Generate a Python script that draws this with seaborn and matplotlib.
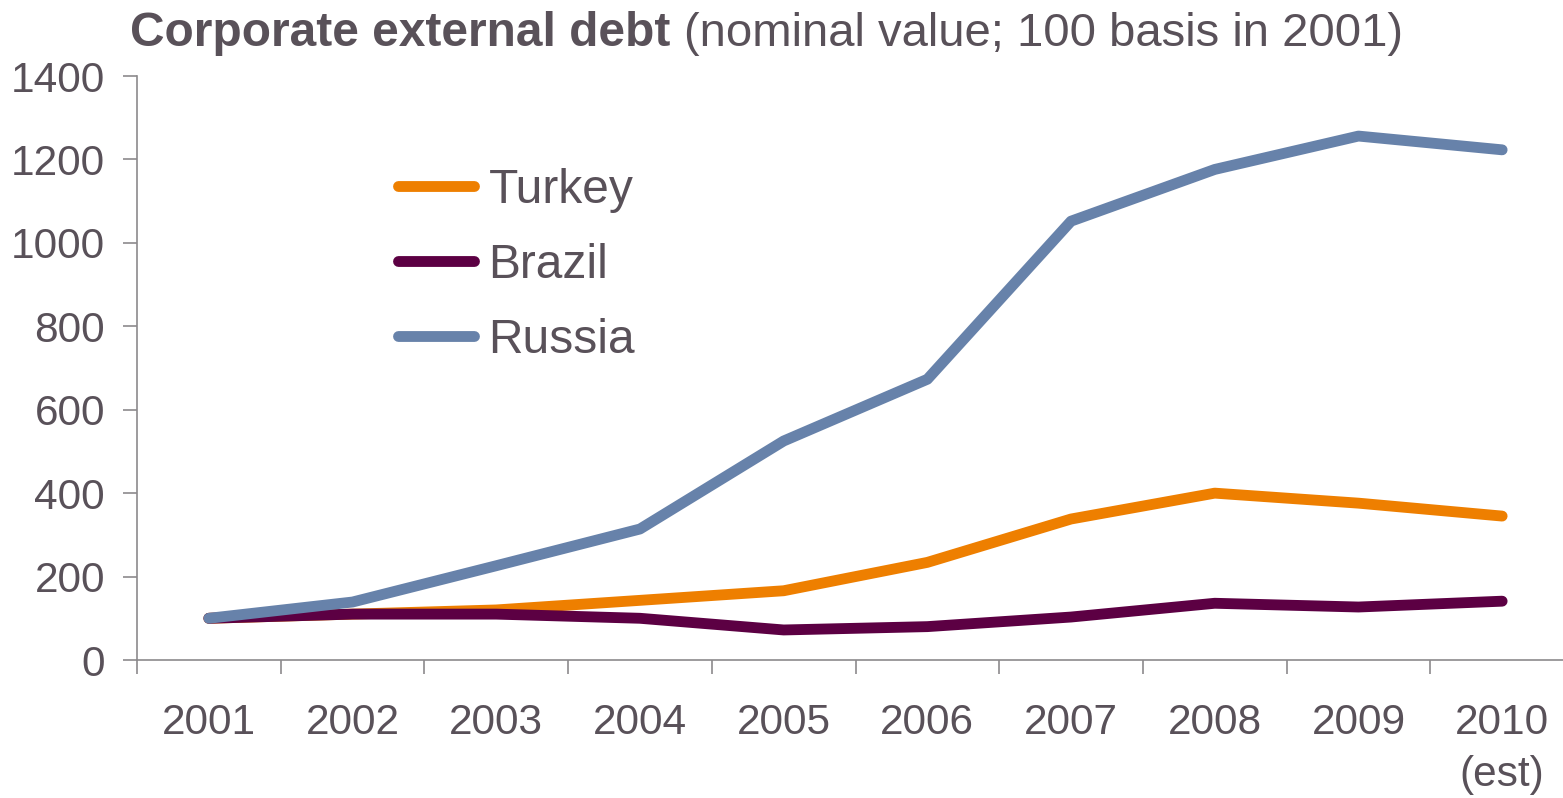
import matplotlib
matplotlib.use("Agg")
import matplotlib.pyplot as plt
import seaborn as sns
import pandas as pd

years = ["2001", "2002", "2003", "2004", "2005", "2006", "2007", "2008", "2009", "2010\n(est)"]
turkey = [100, 110, 120, 143, 166, 234, 338, 400, 376, 345]
brazil = [100, 110, 110, 100, 72, 80, 103, 136, 127, 141]
russia = [100, 139, 226, 314, 525, 673, 1052, 1176, 1256, 1223]
countries = ["Turkey", "Brazil", "Russia"]
colors = ["#EE7F00", "#5C0043", "#6782AA"]

rows = []
for name, vals in zip(countries, [turkey, brazil, russia]):
    for i, v in enumerate(vals):
        rows.append({"pos": i, "value": v, "country": name})
df = pd.DataFrame(rows)

sns.set_style("white")
plt.rcParams["font.family"] = ["Liberation Sans", "DejaVu Sans"]
text_c = "#595159"
axis_c = "#8C8A8C"
lw = 7.8

fig = plt.figure(figsize=(15.63, 7.98), dpi=100)
ax = fig.add_axes([137 / 1563, 1 - 660 / 798, 1437 / 1563, 584 / 798])

sns.lineplot(data=df, x="pos", y="value", hue="country", hue_order=countries,
             palette=colors, linewidth=lw, ax=ax, legend=False,
             solid_capstyle="round", solid_joinstyle="round")

ax.set_xlim(-0.5, len(years) - 0.5)
ax.set_ylim(0, 1400)
ax.set_yticks(range(0, 1401, 200))
ax.set_xticks([i - 0.5 for i in range(len(years) + 1)])
ax.set_xticklabels([])
ax.set_xticks(range(len(years)), minor=True)
ax.set_xticklabels(years, minor=True, ha="center", va="top", linespacing=1.4)
ax.tick_params(axis="x", which="major", length=10, width=1.2, color=axis_c, direction="out", bottom=True)
ax.tick_params(axis="x", which="minor", length=0, pad=31, labelsize=30.5, labelcolor=text_c)
ax.tick_params(axis="y", length=10, width=1.2, color=axis_c, direction="out", left=True,
               pad=13, labelsize=30.5, labelcolor=text_c)
ax.set_xlabel("")
ax.set_ylabel("")

for s in ["top", "right"]:
    ax.spines[s].set_visible(False)
for s in ["left", "bottom"]:
    ax.spines[s].set_color(axis_c)
    ax.spines[s].set_linewidth(1.2)

handles = [plt.Line2D([], [], color=c, linewidth=lw, solid_capstyle="round") for c in colors]
leg = ax.legend(handles, countries, loc="upper left", bbox_to_anchor=(0.168, 0.876),
                frameon=False, fontsize=34.5, handlelength=1.6, handletextpad=0.3,
                labelspacing=0.63, borderpad=0.4, borderaxespad=0, labelcolor=text_c)

fig.text(130 / 1563, 1 - 46 / 798, "Corporate external debt", fontsize=34.5, fontweight="bold",
         color=text_c, ha="left", va="baseline")
fig.canvas.draw()
r = fig.texts[0].get_window_extent()
fig.text(r.x1 / 1563 + 0.009, 1 - 46 / 798, "(nominal value; 100 basis in 2001)", fontsize=34,
         color=text_c, ha="left", va="baseline")

fig.savefig("out.png", dpi=100)
